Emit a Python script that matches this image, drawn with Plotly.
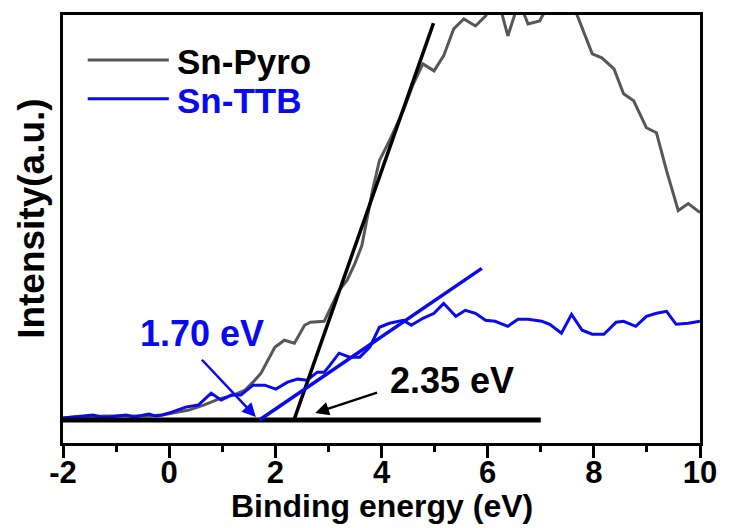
import plotly.graph_objects as go

# ---------------- data ----------------
pyro_x = [-2.00, -1.78, -1.50, -1.22, -0.94, -0.66, -0.38, -0.13, 0.09, 0.37, 0.65, 0.93, 1.21, 1.43,
          1.58, 1.73, 1.86, 1.99, 2.17, 2.36, 2.55, 2.66, 2.92, 3.07, 3.20, 3.35, 3.50, 3.63, 3.72,
          3.83, 3.96, 4.15, 4.41, 4.60, 4.78, 4.99, 5.17, 5.36, 5.55, 5.77, 5.96, 6.11, 6.27, 6.38,
          6.52, 6.65, 6.76, 6.98, 7.13, 7.26, 7.39, 7.54, 7.67, 7.82, 7.97, 8.15, 8.38, 8.56, 8.75,
          8.99, 9.18, 9.37, 9.59, 9.78, 10.00]
pyro_y = [5.83, 6.06, 6.06, 6.29, 6.29, 6.29, 6.29, 6.53, 6.99, 7.69, 8.86, 10.26, 11.19, 12.35,
          14.22, 16.32, 19.35, 22.38, 24.01, 23.31, 27.51, 28.21, 28.44, 32.17, 35.66, 38.00, 41.96,
          46.15, 51.98, 58.97, 65.97, 70.63, 77.62, 83.92, 88.58, 86.95, 90.44, 96.74, 99.07, 97.44,
          99.77, 102.80, 100.23, 95.10, 100.47, 101.40, 97.90, 98.60, 102.10, 102.80, 100.47, 102.33,
          100.47, 95.80, 90.91, 89.98, 87.41, 81.59, 79.95, 73.66, 72.49, 63.64, 54.31, 55.94, 53.85]

ttb_x = [-2.00, -1.83, -1.59, -1.44, -1.27, -1.12, -0.98, -0.81, -0.66, -0.38, -0.25, -0.13, 0.05,
         0.31, 0.55, 0.79, 0.98, 1.17, 1.35, 1.58, 1.80, 2.01, 2.23, 2.42, 2.60, 2.79, 2.92, 3.03,
         3.20, 3.40, 3.59, 3.78, 3.96, 4.15, 4.41, 4.56, 4.78, 4.99, 5.17, 5.40, 5.58, 5.77, 5.96,
         6.14, 6.38, 6.57, 6.76, 7.02, 7.17, 7.39, 7.58, 7.78, 7.97, 8.19, 8.42, 8.56, 8.79, 8.99,
         9.18, 9.37, 9.55, 9.78, 10.00]
ttb_y = [5.83, 6.06, 6.29, 6.53, 6.06, 6.06, 6.29, 6.53, 6.06, 6.76, 6.29, 6.53, 7.23, 8.39, 8.86,
         11.66, 10.02, 11.19, 11.19, 13.52, 13.52, 12.59, 14.22, 14.92, 14.69, 16.55, 16.55, 18.18,
         20.98, 20.05, 20.05, 22.38, 27.04, 27.97, 28.67, 27.51, 29.14, 30.30, 32.63, 29.60, 31.00,
         30.30, 28.67, 28.44, 27.27, 28.90, 28.90, 28.44, 27.74, 25.64, 30.07, 26.34, 25.41, 25.41,
         28.21, 28.44, 27.27, 29.60, 30.30, 30.77, 27.74, 27.97, 28.44]

baseline_x = [-2.0, 7.0]
baseline_y = [5.36, 5.36]
tangent_pyro_x = [2.35, 4.98]
tangent_pyro_y = [5.36, 98.1]
tangent_ttb_x = [1.70, 5.89]
tangent_ttb_y = [5.36, 40.8]

legend_names = ["Sn-Pyro", "Sn-TTB"]
x_ticks = [-2, 0, 2, 4, 6, 8, 10]
x_minor = [-1, 1, 3, 5, 7, 9]
x_title = "Binding energy (eV)"
y_title = "Intensity(a.u.)"
label_ttb = "1.70 eV"
label_pyro = "2.35 eV"

GRAY = "#575757"
BLUE = "#0a0af0"
FONT = "Liberation Sans, Arial, sans-serif"

fig = go.Figure()
fig.add_trace(go.Scatter(x=pyro_x, y=pyro_y, mode="lines", line=dict(color=GRAY, width=3),
                         name=legend_names[0], showlegend=False))
fig.add_trace(go.Scatter(x=ttb_x, y=ttb_y, mode="lines", line=dict(color=BLUE, width=3),
                         name=legend_names[1], showlegend=False))
fig.add_trace(go.Scatter(x=baseline_x, y=baseline_y, mode="lines", line=dict(color="black", width=5),
                         showlegend=False))
fig.add_trace(go.Scatter(x=tangent_pyro_x, y=tangent_pyro_y, mode="lines",
                         line=dict(color="black", width=3.5), showlegend=False))
fig.add_trace(go.Scatter(x=tangent_ttb_x, y=tangent_ttb_y, mode="lines",
                         line=dict(color=BLUE, width=3.5), showlegend=False))

W, H = 729, 528
L, R, T, B = 63, 22, 14, 85
pw, ph = W - L - R, H - T - B

def px_x(px):
    return (px - L) / pw

def px_y(py):
    return (H - B - py) / ph

# manual legend
leg_rows = [(59, GRAY, "black"), (98, BLUE, BLUE)]
for name, (py, lc, tc) in zip(legend_names, leg_rows):
    fig.add_shape(type="line", xref="paper", yref="paper", x0=px_x(88), x1=px_x(170),
                  y0=px_y(py), y1=px_y(py), line=dict(color=lc, width=3))
    fig.add_annotation(xref="paper", yref="paper", x=px_x(176), y=px_y(py + 2), text=name,
                       showarrow=False, xanchor="left", yanchor="middle",
                       font=dict(family=FONT, size=35, color=tc, weight="bold"))

# labels and arrows
fig.add_annotation(x=0.62, y=25.5, text=label_ttb, showarrow=False,
                   font=dict(family=FONT, size=36, color=BLUE, weight="bold"))
fig.add_annotation(x=1.633, y=6.06, ax=0.59, ay=19.8, axref="x", ayref="y", text="",
                   showarrow=True, arrowhead=2, arrowsize=1.1, arrowwidth=2.5, arrowcolor=BLUE)
fig.add_annotation(x=5.33, y=14.5, text=label_pyro, showarrow=False,
                   font=dict(family=FONT, size=36, color="black", weight="bold"))
fig.add_annotation(x=2.751, y=7.0, ax=3.944, ay=11.9, axref="x", ayref="y", text="",
                   showarrow=True, arrowhead=2, arrowsize=1.1, arrowwidth=2.5, arrowcolor="black")

# axis titles
fig.add_annotation(xref="paper", yref="paper", x=0.5, y=px_y(506), text=x_title, showarrow=False,
                   xanchor="center", yanchor="middle",
                   font=dict(family=FONT, size=32, color="black", weight="bold"))
fig.add_annotation(xref="paper", yref="paper", x=px_x(31), y=px_y(218), text=y_title, showarrow=False,
                   xanchor="center", yanchor="middle", textangle=-90,
                   font=dict(family=FONT, size=37, color="black", weight="bold"))

fig.update_layout(
    width=W, height=H, margin=dict(l=L, r=R, t=T, b=B),
    paper_bgcolor="white", plot_bgcolor="white",
    xaxis=dict(range=[-2, 10], tickvals=x_ticks, ticktext=[str(v) for v in x_ticks],
               ticks="outside", ticklen=12, tickwidth=3, tickcolor="black",
               ticklabelstandoff=-12,
               showline=True, linewidth=3, linecolor="black", mirror=True,
               showgrid=False, zeroline=False,
               tickfont=dict(family=FONT, size=31, color="black", weight="bold"),
               minor=dict(tickvals=x_minor, ticks="outside", ticklen=6,
                          tickwidth=3, tickcolor="black")),
    yaxis=dict(range=[0, 100], showticklabels=False, ticks="", showline=True, linewidth=3,
               linecolor="black", mirror=True, showgrid=False, zeroline=False),
)

fig.write_html("out.html")
